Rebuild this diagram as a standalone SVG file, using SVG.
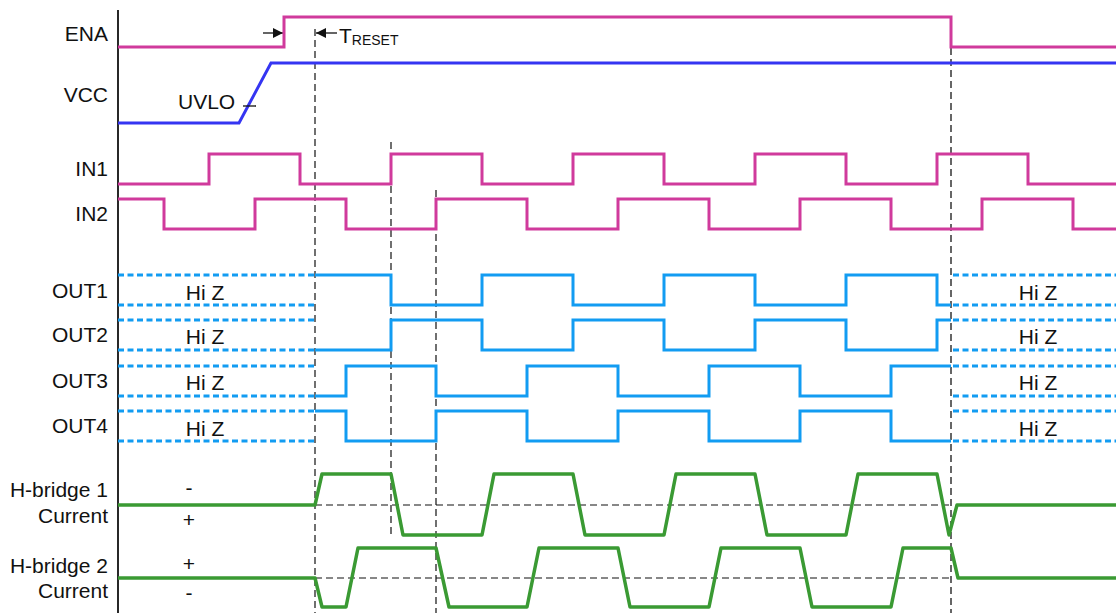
<svg xmlns="http://www.w3.org/2000/svg" width="1116" height="613" viewBox="0 0 1116 613">
<style>
text{font-family:"Liberation Sans",Arial,sans-serif;font-size:21px;fill:#111}
.lbl{text-anchor:end}
.mid{text-anchor:middle}
.mag{fill:none;stroke:#D03A9C;stroke-width:3;stroke-linejoin:miter}
.vcc{fill:none;stroke:#3535F2;stroke-width:3}
.out{fill:none;stroke:#129CF2;stroke-width:3}
.hiz{fill:none;stroke:#129CF2;stroke-width:3;stroke-dasharray:6 3.5}
.grn{fill:none;stroke:#3A9A33;stroke-width:3.5;stroke-linejoin:round}
.dk{fill:none;stroke:#111;stroke-width:1.2;stroke-dasharray:7 4}
.dg{fill:none;stroke:#666;stroke-width:2;stroke-dasharray:7 4}
</style>
<defs>
<marker id="ah" markerWidth="12" markerHeight="12" refX="10" refY="6" orient="auto" markerUnits="userSpaceOnUse">
<path d="M0,1 L10,6 L0,11 Z" fill="#111"/>
</marker>
</defs>
<g id="axis"><line x1="118" y1="10" x2="118" y2="613" stroke="#111" stroke-width="1.8"/></g>
<g id="connectors">
<line class="dk" x1="315" y1="29" x2="315" y2="613"/>
<line class="dk" x1="391" y1="142" x2="391" y2="534"/>
<line class="dk" x1="436" y1="190" x2="436" y2="613"/>
<line class="dg" x1="951" y1="48" x2="951" y2="613"/>
<line class="dk" x1="315" y1="505" x2="951" y2="505"/>
<line class="dk" x1="315" y1="578" x2="951" y2="578"/>
<line x1="263" y1="33" x2="283" y2="33" stroke="#111" stroke-width="1.3" marker-end="url(#ah)"/>
<line x1="337" y1="33" x2="316" y2="33" stroke="#111" stroke-width="1.3" marker-end="url(#ah)"/>
</g>
<g id="ena">
<text class="lbl" x="108" y="40.5">ENA</text>
<polyline class="mag" points="118,47 284,47 284,17 951,17 951,47 1116,47"/>
<text x="339" y="43">T<tspan font-size="14" dy="2">RESET</tspan></text>
</g>
<g id="vcc">
<text class="lbl" x="108" y="102">VCC</text>
<polyline class="vcc" points="118,123 239,123 271,63 1116,63"/>
<text x="178" y="109" font-size="20">UVLO</text>
<line x1="243" y1="106" x2="256" y2="106" stroke="#111" stroke-width="1.3"/>
</g>
<g id="in1">
<text class="lbl" x="108" y="176">IN1</text>
<polyline class="mag" points="118,184 209,184 209,154 300,154 300,184 391,184 391,154 482,154 482,184 573,184 573,154 664,154 664,184 755,184 755,154 846,154 846,184 937,184 937,154 1028,154 1028,184 1116,184"/>
</g>
<g id="in2">
<text class="lbl" x="108" y="221">IN2</text>
<polyline class="mag" points="118,199 164,199 164,229 255,229 255,199 346,199 346,229 436,229 436,199 527,199 527,229 618,229 618,199 709,199 709,229 800,229 800,199 891,199 891,229 982,229 982,199 1073,199 1073,229 1116,229"/>
</g>
<g id="out1">
<text class="lbl" x="108" y="298">OUT1</text>
<line class="hiz" x1="118" y1="275" x2="315" y2="275"/>
<line class="hiz" x1="118" y1="305" x2="315" y2="305"/>
<line class="hiz" x1="953" y1="275" x2="1116" y2="275"/>
<line class="hiz" x1="953" y1="305" x2="1116" y2="305"/>
<polyline class="out" points="315,275 391,275 391,305 482,305 482,275 573,275 573,305 664,305 664,275 755,275 755,305 846,305 846,275 937,275 937,305 951,305"/>
<text class="mid" x="205" y="300">Hi Z</text>
<text class="mid" x="1038" y="300">Hi Z</text>
</g>
<g id="out2">
<text class="lbl" x="108" y="342">OUT2</text>
<line class="hiz" x1="118" y1="320" x2="315" y2="320"/>
<line class="hiz" x1="118" y1="350" x2="315" y2="350"/>
<line class="hiz" x1="953" y1="320" x2="1116" y2="320"/>
<line class="hiz" x1="953" y1="350" x2="1116" y2="350"/>
<polyline class="out" points="315,350 391,350 391,320 482,320 482,350 573,350 573,320 664,320 664,350 755,350 755,320 846,320 846,350 937,350 937,320 951,320"/>
<text class="mid" x="205" y="344">Hi Z</text>
<text class="mid" x="1038" y="344">Hi Z</text>
</g>
<g id="out3">
<text class="lbl" x="108" y="388">OUT3</text>
<line class="hiz" x1="118" y1="366" x2="315" y2="366"/>
<line class="hiz" x1="118" y1="396" x2="315" y2="396"/>
<line class="hiz" x1="953" y1="366" x2="1116" y2="366"/>
<line class="hiz" x1="953" y1="396" x2="1116" y2="396"/>
<polyline class="out" points="315,396 346,396 346,366 436,366 436,396 527,396 527,366 618,366 618,396 709,396 709,366 800,366 800,396 891,396 891,366 951,366"/>
<text class="mid" x="205" y="390">Hi Z</text>
<text class="mid" x="1038" y="390">Hi Z</text>
</g>
<g id="out4">
<text class="lbl" x="108" y="433">OUT4</text>
<line class="hiz" x1="118" y1="411" x2="315" y2="411"/>
<line class="hiz" x1="118" y1="441" x2="315" y2="441"/>
<line class="hiz" x1="953" y1="411" x2="1116" y2="411"/>
<line class="hiz" x1="953" y1="441" x2="1116" y2="441"/>
<polyline class="out" points="315,411 346,411 346,441 436,441 436,411 527,411 527,441 618,441 618,411 709,411 709,441 800,441 800,411 891,411 891,441 951,441"/>
<text class="mid" x="205" y="436">Hi Z</text>
<text class="mid" x="1038" y="436">Hi Z</text>
</g>
<g id="hbridge1">
<text class="lbl" x="108" y="497">H-bridge 1</text>
<text class="lbl" x="108" y="523">Current</text>
<text class="mid" x="189" y="495">-</text>
<text class="mid" x="189" y="527">+</text>
<polyline class="grn" points="118,505 315,505 322,474 391,474 403,535 482,535 494,474 573,474 585,535 664,535 676,474 755,474 767,535 846,535 858,474 937,474 949,535 957,505 1116,505"/>
</g>
<g id="hbridge2">
<text class="lbl" x="108" y="573">H-bridge 2</text>
<text class="lbl" x="108" y="598">Current</text>
<text class="mid" x="189" y="571">+</text>
<text class="mid" x="189" y="600">-</text>
<polyline class="grn" points="118,578 315,578 322,607 346,607 358,548 436,548 449,607 527,607 539,548 618,548 630,607 709,607 721,548 800,548 812,607 891,607 903,548 951,548 958,578 1116,578"/>
</g>
</svg>
